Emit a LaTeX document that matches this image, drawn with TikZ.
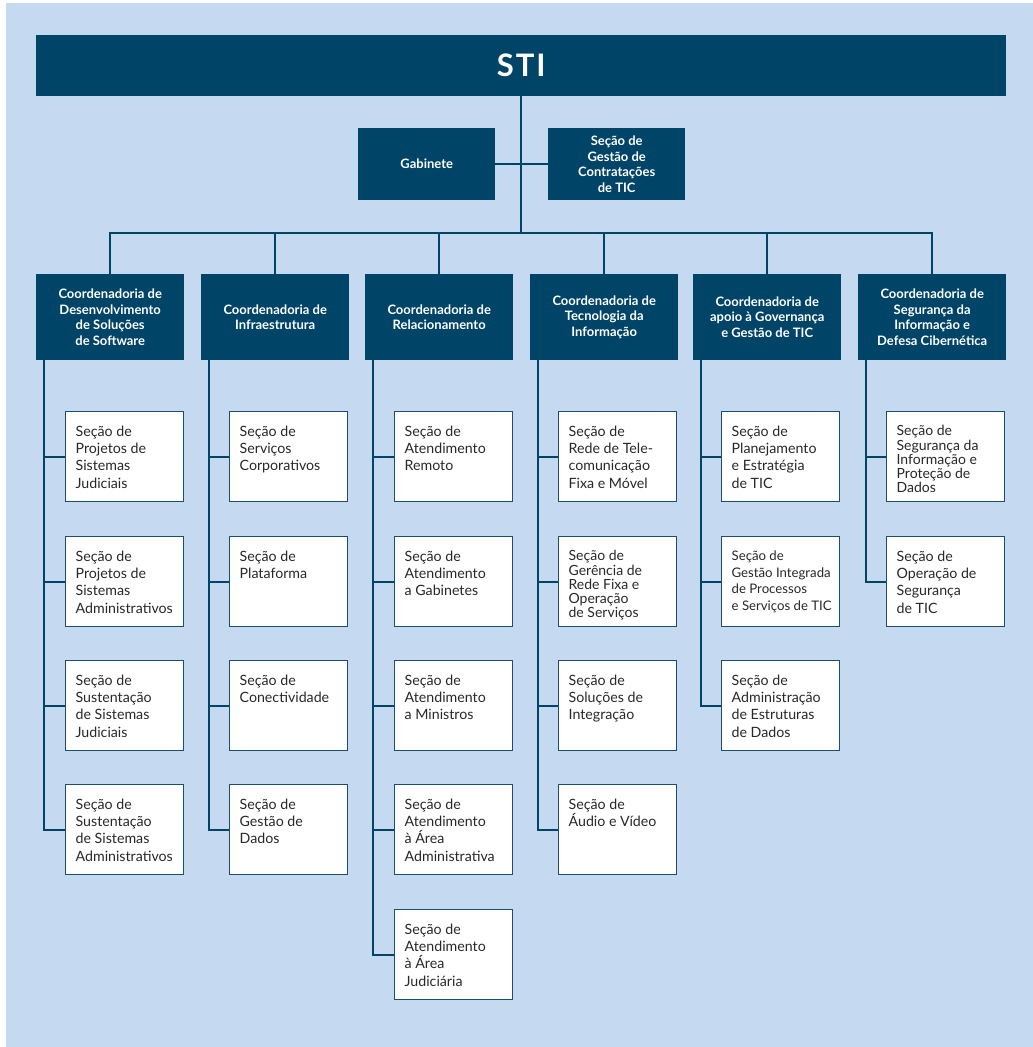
\documentclass[tikz,border=0pt]{standalone}
\usepackage{fontspec}
\setmainfont{Lato}
\definecolor{dk}{RGB}{0,68,103}
\definecolor{bg}{RGB}{197,217,241}
\definecolor{tx}{RGB}{40,40,40}
\definecolor{bd}{RGB}{28,78,112}
\newcommand{\sectxt}[1]{\parbox[c][62pt][t]{98pt}{\makebox[98pt][l]{\parbox[t]{130pt}{\raggedright #1}}}}
\newcommand{\tighttxt}[1]{\parbox[c][62pt][t]{98pt}{\makebox[98pt][l]{\parbox[t]{130pt}{\fontsize{14}{14.2}\selectfont\raggedright #1}}}}
\newcommand{\smalltxt}[1]{\parbox[c][62pt][t]{98pt}{\makebox[98pt][l]{\parbox[t]{130pt}{\fontsize{13.2}{16.7}\selectfont\raggedright #1}}}}
\begin{document}
\begin{tikzpicture}[x=1pt,y=-1pt,
 stibox/.style={fill=dk,text=white,minimum width=970pt,minimum height=61pt,inner sep=0,anchor=north west,font=\bfseries\fontsize{31}{31}\selectfont},
 darkbox/.style={fill=dk,text=white,inner sep=0,anchor=north west,align=center,font=\bfseries\fontsize{13}{15.7}\selectfont},
 coordbox/.style={darkbox,minimum width=148pt,minimum height=86pt},
 secbox/.style={draw=bd,line width=1.3pt,fill=white,text=tx,inner xsep=10pt,inner ysep=14pt,anchor=north west,font=\fontsize{14.2}{17.3}\selectfont},
 conn/.style={draw=dk,line width=2pt}
]
\useasboundingbox (0,0) rectangle (1033,1047);
\fill[bg] (6,3) rectangle (1033,1047);

\node[stibox] (sti) at (36,35) {\addfontfeature{LetterSpace=6}STI};
\node[darkbox,minimum width=137pt,minimum height=72pt] (gab) at (358,128) {Gabinete};
\node[darkbox,minimum width=137pt,minimum height=72pt] (sgc) at (548,128) {Seção de\\Gestão de\\Contratações\\de TIC};

\node[coordbox] (c1) at (36,274) {Coordenadoria de\\Desenvolvimento\\de Soluções\\de Software};
\node[coordbox] (c2) at (201,274) {Coordenadoria de\\Infraestrutura};
\node[coordbox] (c3) at (365,274) {Coordenadoria de\\Relacionamento};
\node[coordbox] (c4) at (530,274) {Coordenadoria de\\Tecnologia da\\Informação};
\node[coordbox] (c5) at (693,274) {Coordenadoria de\\apoio à Governança\\e Gestão de TIC};
\node[coordbox] (c6) at (858,274) {Coordenadoria de\\Segurança da\\Informação e\\Defesa Cibernética};

% column 1
\node[secbox] (s11) at (65,411) {\sectxt{Seção de\\Projetos de\\Sistemas\\Judiciais}};
\node[secbox] (s12) at (65,536) {\sectxt{Seção de\\Projetos de\\Sistemas\\Administrativos}};
\node[secbox] (s13) at (65,660) {\sectxt{Seção de\\Sustentação\\de Sistemas\\Judiciais}};
\node[secbox] (s14) at (65,784) {\sectxt{Seção de\\Sustentação\\de Sistemas\\Administrativos}};
% column 2
\node[secbox] (s21) at (229,411) {\sectxt{Seção de\\Serviços\\Corporativos}};
\node[secbox] (s22) at (229,536) {\sectxt{Seção de\\Plataforma}};
\node[secbox] (s23) at (229,660) {\sectxt{Seção de\\Conectividade}};
\node[secbox] (s24) at (229,784) {\sectxt{Seção de\\Gestão de\\Dados}};
% column 3
\node[secbox] (s31) at (394,411) {\sectxt{Seção de\\Atendimento\\Remoto}};
\node[secbox] (s32) at (394,536) {\sectxt{Seção de\\Atendimento\\a Gabinetes}};
\node[secbox] (s33) at (394,660) {\sectxt{Seção de\\Atendimento\\a Ministros}};
\node[secbox] (s34) at (394,784) {\sectxt{Seção de\\Atendimento\\à Área\\Administrativa}};
\node[secbox] (s35) at (394,909) {\sectxt{Seção de\\Atendimento\\à Área\\Judiciária}};
% column 4
\node[secbox] (s41) at (558,411) {\sectxt{Seção de\\Rede de Tele-\\comunicação\\Fixa e Móvel}};
\node[secbox] (s42) at (558,536) {\tighttxt{Seção de\\Gerência de\\Rede Fixa e\\Operação\\de Serviços}};
\node[secbox] (s43) at (558,660) {\sectxt{Seção de\\Soluções de\\Integração}};
\node[secbox] (s44) at (558,784) {\sectxt{Seção de\\Áudio e Vídeo}};
% column 5
\node[secbox] (s51) at (721,411) {\sectxt{Seção de\\Planejamento\\e Estratégia\\de TIC}};
\node[secbox] (s52) at (721,536) {\smalltxt{Seção de\\Gestão Integrada\\de Processos\\e Serviços de TIC}};
\node[secbox] (s53) at (721,660) {\sectxt{Seção de\\Administração\\de Estruturas\\de Dados}};
% column 6
\node[secbox] (s61) at (886,411) {\tighttxt{Seção de\\Segurança da\\Informação e\\Proteção de\\Dados}};
\node[secbox] (s62) at (886,536) {\sectxt{Seção de\\Operação de\\Segurança\\de TIC}};

% top connectors
\coordinate (bus) at (521,233);
\draw[conn] (sti.south -| bus) -- (bus);
\draw[conn] (gab.east) -- (sgc.west);
\draw[conn] (c1.north) |- (c6.north |- bus) -- (c6.north);
\foreach \i in {2,3,4,5} {\draw[conn] (c\i.north) -- (c\i.north |- bus);}

% trunks
\foreach \c/\last in {1/4,2/4,3/5,4/4,5/3,6/2} {
  \coordinate (t\c) at ([xshift=8pt]c\c.south west);
  \draw[conn] (t\c) |- (s\c\last.west);
  \foreach \r in {1,...,\last} {\draw[conn] (s\c\r.west) -- (s\c\r.west -| t\c);}
}
\end{tikzpicture}
\end{document}
